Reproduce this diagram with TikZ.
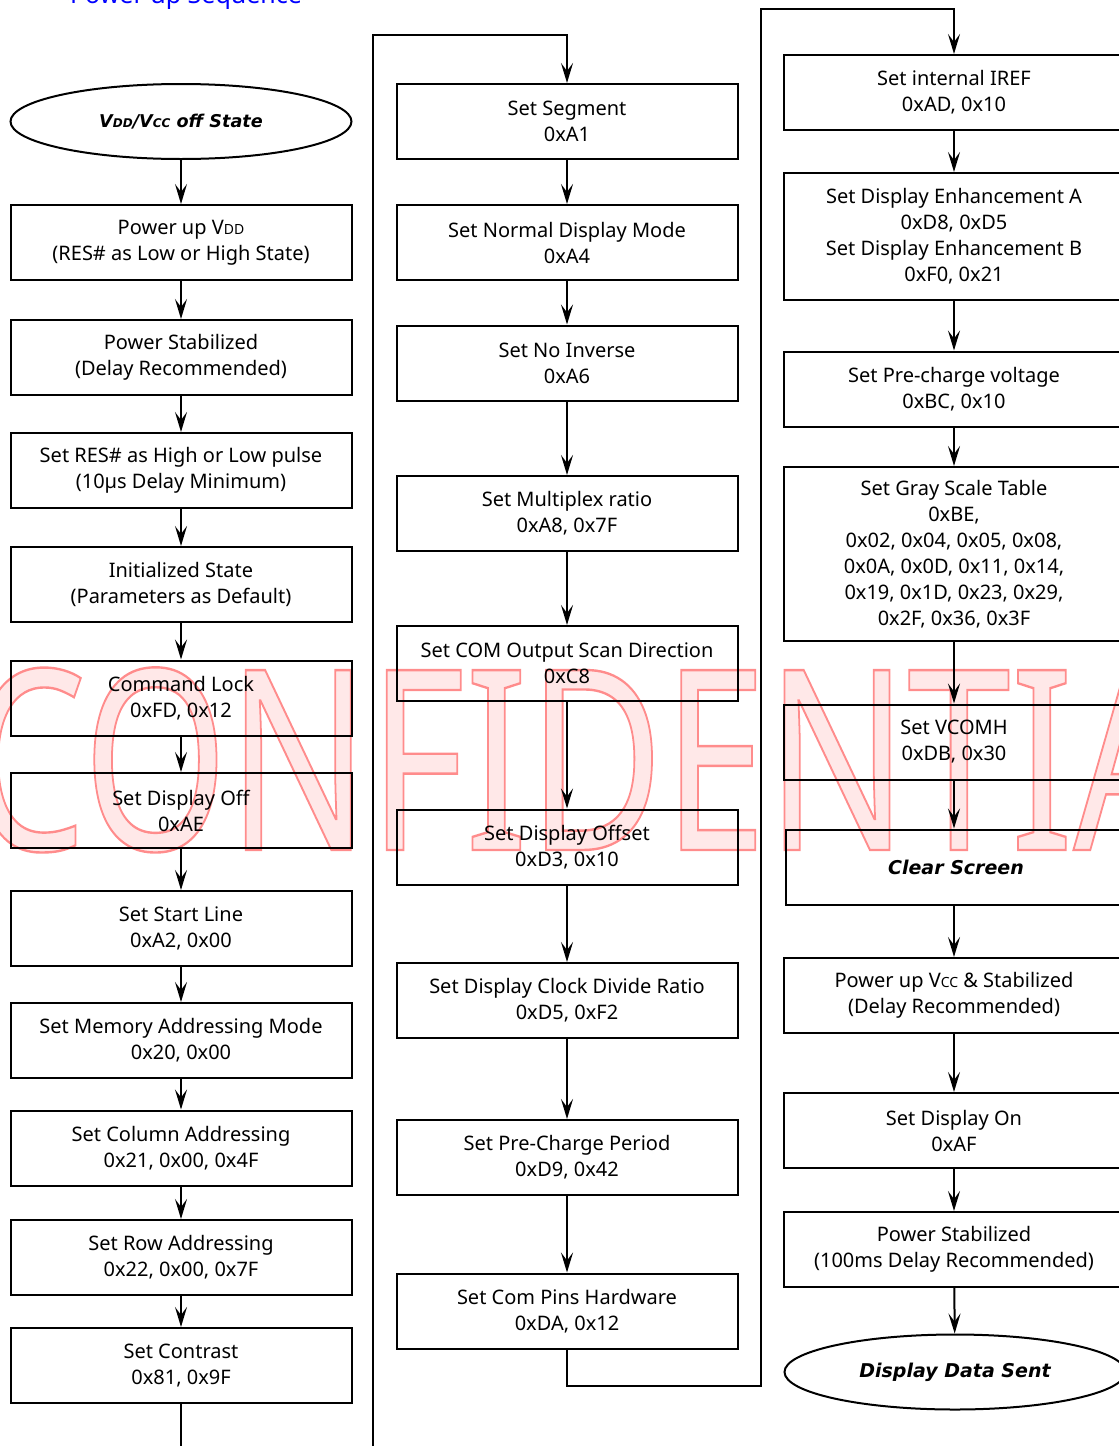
\documentclass[tikz,border=0pt]{standalone}
\usepackage{fontspec}
\setmainfont{Noto Sans}
\newfontfamily\headfont{DejaVu Sans}
\usetikzlibrary{arrows.meta}
\usetikzlibrary{shapes.geometric}

\newcommand{\sbs}[1]{{\fontsize{7}{7}\selectfont #1}}
% outlined text: pale fill, red edge
\newcommand{\outlined}[1]{\special{pdf:literal direct q 2 Tr 1.2 w 1 0.55 0.55 RG}#1\special{pdf:literal direct Q}}

\begin{document}
\begin{tikzpicture}[x=0.5pt, y=-0.5pt,
    box/.style={draw, line width=1pt, minimum width=170.5pt, minimum height=37.5pt,
      inner sep=0pt, align=center, font=\fontsize{10}{13}\selectfont},
    oval/.style={draw, ellipse, line width=1pt, minimum width=170.5pt, minimum height=37.5pt,
      inner sep=0pt, font=\fontsize{9.5}{13}\selectfont\headfont\bfseries\itshape},
    flow/.style={line width=1pt, -{Stealth[length=10pt,width=6pt,inset=4pt]}}]
    \useasboundingbox (0,0) rectangle (1119,1446);

    % watermark behind everything
    \node[anchor=base west, xscale=0.736, inner sep=0pt, text=red!9,
      font=\fontsize{126}{126}\selectfont] (mark) at (-31,850)
      {\outlined{CONFIDENTIAL}};

    \node[anchor=base, text=blue, font=\fontsize{12.5}{14}\selectfont] (title) at (186,3) {<Power up Sequence>};

    % first column
    \node[oval, font=\fontsize{8.8}{13}\selectfont\headfont\bfseries\itshape] (off) at (181,121.5)
      {V{\fontsize{6}{6}\selectfont DD}/V{\fontsize{6}{6}\selectfont CC} off State};
    \node[box] (pwrvdd) at (181,242.5) {Power up V\sbs{DD}\\(RES\# as Low or High State)};
    \node[box] (stab) at (181,357.5) {Power Stabilized\\(Delay Recommended)};
    \node[box] (res) at (181,470.5) {Set RES\# as High or Low pulse\\(10µs Delay Minimum)};
    \node[box] (init) at (181,584.5) {Initialized State\\(Parameters as Default)};
    \node[box] (lock) at (181,698) {Command Lock\\0xFD, 0x12};
    \node[box] (dispoff) at (181,810.5) {Set Display Off\\0xAE};
    \node[box] (startline) at (181,928.5) {Set Start Line\\0xA2, 0x00};
    \node[box] (memaddr) at (181,1040.5) {Set Memory Addressing Mode\\0x20, 0x00};
    \node[box] (coladdr) at (181,1148) {Set Column Addressing\\0x21, 0x00, 0x4F};
    \node[box] (rowaddr) at (181,1257.5) {Set Row Addressing\\0x22, 0x00, 0x7F};
    \node[box] (contrast) at (181,1365.5) {Set Contrast\\0x81, 0x9F};

    % second column
    \node[box] (segment) at (567,121.5) {Set Segment\\0xA1};
    \node[box] (normal) at (567,242.5) {Set Normal Display Mode\\0xA4};
    \node[box] (noinv) at (567,363) {Set No Inverse\\0xA6};
    \node[box] (mux) at (567,513.5) {Set Multiplex ratio\\0xA8, 0x7F};
    \node[box] (comscan) at (567,663.5) {Set COM Output Scan Direction\\0xC8};
    \node[box] (offset) at (567,847) {Set Display Offset\\0xD3, 0x10};
    \node[box] (clkdiv) at (567,1000.5) {Set Display Clock Divide Ratio\\0xD5, 0xF2};
    \node[box] (precharge) at (567,1157.5) {Set Pre-Charge Period\\0xD9, 0x42};
    \node[box] (compins) at (567,1311) {Set Com Pins Hardware\\0xDA, 0x12};

    % third column
    \node[box] (iref) at (954,92.5) {Set internal IREF\\0xAD, 0x10};
    \node[box, minimum height=63.5pt] (enhance) at (954,236.5)
      {Set Display Enhancement A\\0xD8, 0xD5\\Set Display Enhancement B\\0xF0, 0x21};
    \node[box] (prevolt) at (954,389) {Set Pre-charge voltage\\0xBC, 0x10};
    \node[box, minimum height=87pt] (gray) at (954,554)
      {Set Gray Scale Table\\0xBE,\\0x02, 0x04, 0x05, 0x08,\\0x0A, 0x0D, 0x11, 0x14,\\0x19, 0x1D, 0x23, 0x29,\\0x2F, 0x36, 0x3F};
    \node[box] (vcomh) at (954,742) {Set VCOMH\\0xDB, 0x30};
    \node[box, font=\fontsize{9.5}{13}\selectfont\headfont\bfseries\itshape] (clear) at (956,867) {Clear Screen};
    \node[box] (pwrvcc) at (954,995.5) {Power up V\sbs{CC} \& Stabilized\\(Delay Recommended)};
    \node[box] (dispon) at (954,1130.5) {Set Display On\\0xAF};
    \node[box] (stab2) at (954,1249.5) {Power Stabilized\\(100ms Delay Recommended)};
    \node[oval] (sent) at (955,1372) {Display Data Sent};

    % turning points of the long runs
    \coordinate (downA) at (181,1480);
    \coordinate (upA) at (373,35);
    \coordinate (downB) at (567,1386);
    \coordinate (upB) at (761,9);

    % connectors
    \draw[flow] (off) -- (pwrvdd);
    \draw[flow] (pwrvdd) -- (stab);
    \draw[flow] (stab) -- (res);
    \draw[flow] (res) -- (init);
    \draw[flow] (init) -- (lock);
    \draw[flow] (lock) -- (dispoff);
    \draw[flow] (dispoff) -- (startline);
    \draw[flow] (startline) -- (memaddr);
    \draw[flow] (memaddr) -- (coladdr);
    \draw[flow] (coladdr) -- (rowaddr);
    \draw[flow] (rowaddr) -- (contrast);
    \draw[flow] (contrast.south) -- (downA) -| (upA) -| (segment.north);

    \draw[flow] (segment) -- (normal);
    \draw[flow] (normal) -- (noinv);
    \draw[flow] (noinv) -- (mux);
    \draw[flow] (mux) -- (comscan);
    \draw[flow] (comscan) -- (offset);
    \draw[flow] (offset) -- (clkdiv);
    \draw[flow] (clkdiv) -- (precharge);
    \draw[flow] (precharge) -- (compins);
    \draw[flow] (compins.south) -- (downB) -| (upB) -| (iref.north);

    \draw[flow] (iref) -- (enhance);
    \draw[flow] (enhance) -- (prevolt);
    \draw[flow] (prevolt) -- (gray);
    \draw[flow] (gray) -- (vcomh);
    \draw[flow] (vcomh) -- (clear.north -| vcomh.south);
    \draw[flow] (clear.south -| pwrvcc.north) -- (pwrvcc);
    \draw[flow] (pwrvcc) -- (dispon);
    \draw[flow] (dispon) -- (stab2);
    \draw[flow] (stab2) -- (sent);
  \end{tikzpicture}
\end{document}
